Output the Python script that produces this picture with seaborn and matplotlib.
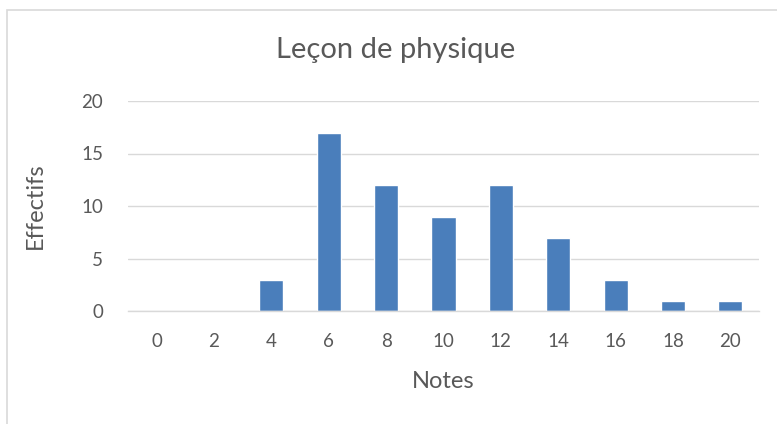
import matplotlib
matplotlib.use("Agg")
import matplotlib.pyplot as plt
import seaborn as sns
import pandas as pd
from matplotlib.patches import Rectangle

notes = ["0", "2", "4", "6", "8", "10", "12", "14", "16", "18", "20"]
effectifs = [0, 0, 3, 17, 12, 9, 12, 7, 3, 1, 1]
yticks = [0, 5, 10, 15, 20]

sns.set_theme(style="white")
plt.rcParams['font.family'] = ['Lato', 'DejaVu Sans']

W, H = 777, 424
TXT = "#595959"
fig = plt.figure(figsize=(W / 100, H / 100), dpi=100)
ax = fig.add_axes([128 / W, 1 - 311 / H, (759 - 128) / W, (311 - 101) / H])

df = pd.DataFrame({"Notes": notes, "Effectifs": effectifs})
sns.barplot(data=df, x="Notes", y="Effectifs", color="#4A7EBB", width=0.42,
            saturation=1, ax=ax)

ax.set_ylim(0, 20)
ax.set_yticks(yticks)
ax.set_xlim(-0.5, len(notes) - 0.5)
ax.grid(axis="y", color="#D9D9D9", linewidth=1)
ax.set_axisbelow(True)
for s in ["top", "right", "left"]:
    ax.spines[s].set_visible(False)
ax.spines["bottom"].set_color("#D9D9D9")
ax.spines["bottom"].set_linewidth(1)
ax.tick_params(axis="both", length=0, labelsize=13.5, colors=TXT)
ax.tick_params(axis="x", pad=16)
ax.tick_params(axis="y", pad=18)
ax.set_xlabel("")
ax.set_ylabel("")

fig.text(396 / W, 1 - 50 / H, "Leçon de physique", fontsize=21, color=TXT,
         ha="center", va="center")
fig.text(443 / W, 1 - 381 / H, "Notes", fontsize=17, color=TXT,
         ha="center", va="center")
fig.text(35 / W, 1 - 206 / H, "Effectifs", fontsize=17, color=TXT,
         ha="center", va="center", rotation=90)

fig.patches.append(Rectangle((7 / W, -0.1), 1.2, 1 - 10 / H + 0.1,
                             transform=fig.transFigure, fill=False,
                             edgecolor="#D9D9D9", linewidth=1.2))

fig.savefig("out.png", dpi=100)
